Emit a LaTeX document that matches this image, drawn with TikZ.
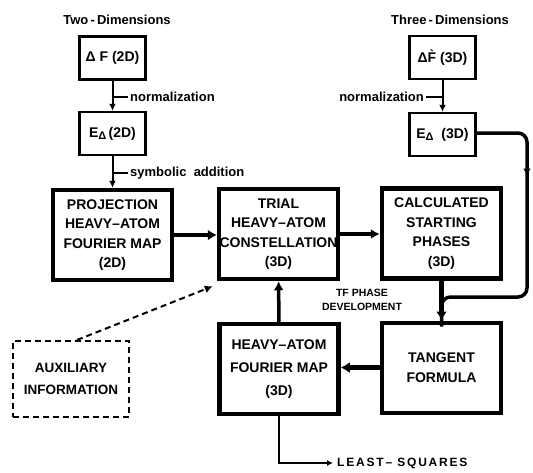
\documentclass[tikz,border=0pt]{standalone}
\usepackage{fontspec}
\setmainfont{Liberation Sans}
\newfontfamily\lsfont[LetterSpace=15]{Liberation Sans}
\usetikzlibrary{arrows.meta,decorations.markings}
\begin{document}
\begin{tikzpicture}[x=1pt,y=-1pt,
  smallbox/.style={draw,line width=2.5pt,minimum width=66pt,minimum height=43pt,inner sep=0pt,font=\bfseries\fontsize{14}{16}\selectfont},
  bigbox/.style={draw,line width=4.5pt,minimum width=119pt,minimum height=90pt,align=center,inner sep=0pt,font=\bfseries\fontsize{14}{19.5}\selectfont},
  thinarrow/.style={line width=2pt,-{Latex[length=7pt,width=7pt]}},
  thickarrow/.style={line width=4.5pt,-{Latex[length=9pt,width=11pt]}},
  medarrow/.style={line width=3.5pt,-{Latex[length=9pt,width=10pt]}},
  lbl/.style={font=\bfseries\fontsize{13}{15}\selectfont,inner sep=0pt},
  tick/.style={line width=1.5pt}
]
\useasboundingbox (0,0) rectangle (533,472);
\fill[white] (0,0) rectangle (533,472);

% titles
\node[lbl] (t2) at (117,20) {Two\,-\,Dimensions};
\node[lbl] (t3) at (450,20) {Three\,-\,Dimensions};

% small boxes
\node[smallbox] (dF2) at (112.5,58) {Δ F (2D)};
\node[smallbox] (E2) at (112.5,133.5) {E\raisebox{-0.35ex}{\fontsize{11}{11}\selectfont Δ}\,(2D)};
\node[smallbox] (dF3) at (442.5,57.5) {Δ\`{F} (3D)};
\node[smallbox] (E3) at (442.5,134.5) {E\raisebox{-0.35ex}{\fontsize{11}{11}\selectfont Δ}\ \ (3D)};

% big boxes
\node[bigbox] (proj) at (112.5,235) {PROJECTION\\HEAVY–ATOM\\FOURIER MAP\\(2D)};
\node[bigbox] (trial) at (278.5,234) {TRIAL\\HEAVY–ATOM\\CONSTELLATION\\(3D)};
\node[bigbox] (calc) at (441.5,233.5) {CALCULATED\\STARTING\\PHASES\\(3D)};
\node[bigbox,line width=4pt,font=\bfseries\fontsize{14}{20}\selectfont] (tan) at (441.5,367.5) {TANGENT\\FORMULA};
\node[bigbox,font=\bfseries\fontsize{14}{23}\selectfont] (four) at (279,369) {HEAVY–ATOM\\FOURIER MAP\\(3D)};
\node[draw,line width=2pt,dash pattern=on 6pt off 4pt,minimum width=116pt,minimum height=76pt,align=center,inner sep=0pt,font=\bfseries\fontsize{13.5}{22}\selectfont] (aux) at (71,379) {AUXILIARY\\INFORMATION};

% labels
\node[lbl,anchor=west] (n1) at (130,97) {normalization};
\node[lbl,anchor=west] (sa) at (130,173) {symbolic\ \ addition};
\node[lbl,anchor=east] (n3) at (424,97) {normalization};
\node[align=center,inner sep=0pt,font=\bfseries\fontsize{10.5}{14}\selectfont] (tf) at (362,300) {TF PHASE\\DEVELOPMENT};
\node[anchor=west,inner sep=0pt,font=\lsfont\bfseries\fontsize{12}{14}\selectfont] (ls) at (337,463) {LEAST– SQUARES};

% connectors
\draw[thinarrow] (dF2) -- (E2);
\draw[tick] (n1.west -| dF2) -- ([xshift=-2pt]n1.west);
\draw[thinarrow] (E2) -- (proj);
\draw[tick] (sa.west -| E2) -- ([xshift=-2pt]sa.west);
\draw[thinarrow] (dF3) -- (E3);
\draw[tick] ([xshift=2pt]n3.east) -- (n3.east -| dF3);

\draw[thickarrow] (proj.east) -- (proj.east -| trial.west);
\draw[medarrow] (trial.east) -- (trial.east -| calc.west);
\draw[thickarrow] (calc) -- (tan);
\draw[thickarrow] (tan.west) -- (tan.west -| four.east);
\draw[medarrow] (four) -- (trial);

\coordinate (c1) at (527,133);
\coordinate (c2) at (527,297);
\draw[line width=3.5pt,rounded corners=9pt,
  postaction={decorate},
  decoration={markings,mark=at position 0.28 with {\arrow{Latex[length=7pt,width=8pt]}}}]
  (E3.east |- c1) -- (c1) -- (c2) -- (c2 -| tan.north) -- ([yshift=-6pt]tan.north);

\draw[line width=2pt,-{Latex[length=6pt,width=6pt]}] (four.south) |- ([xshift=-4pt]ls.west);

\draw[line width=2pt,dash pattern=on 6pt off 4pt,-{Latex[length=8pt,width=8pt]}]
  ([xshift=6pt]aux.north) -- ([xshift=-4pt,yshift=-5pt]trial.south west);
\end{tikzpicture}
\end{document}
